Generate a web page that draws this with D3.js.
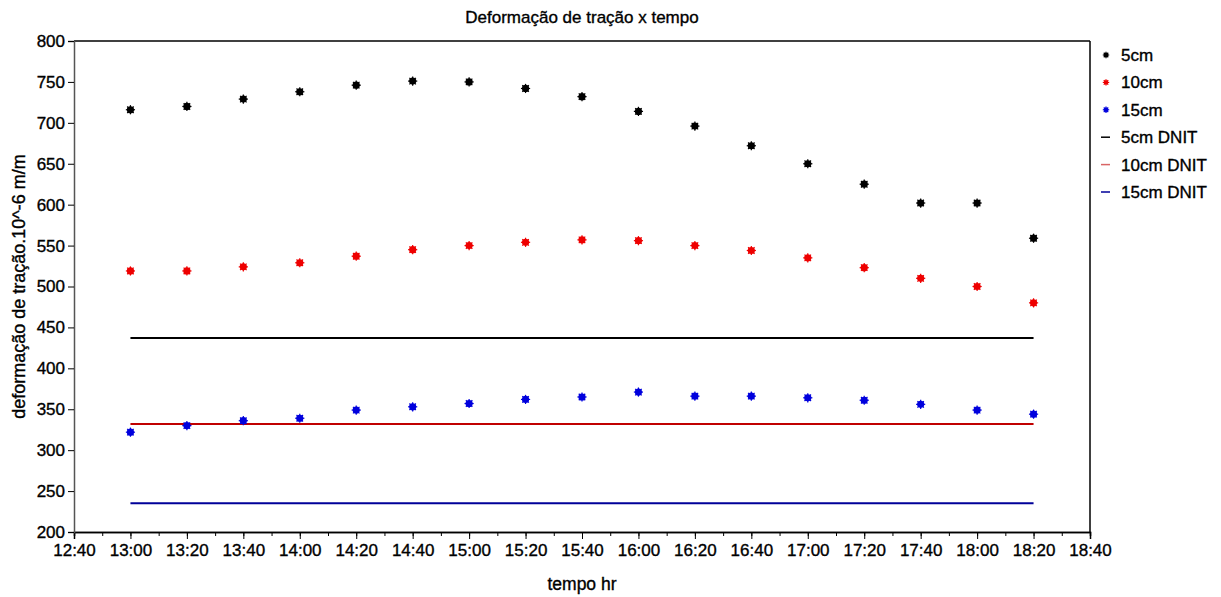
<!DOCTYPE html>
<html><head><meta charset="utf-8">
<script src="https://cdn.jsdelivr.net/npm/d3@7"></script>
<style>
body{margin:0;background:#fff;}
text{font-family:"Liberation Sans",Arial,sans-serif;fill:#000;stroke:#000;stroke-width:0.35px;}
</style></head><body>
<svg id="c" width="1221" height="597"></svg>
<script>
const times = ["13:00","13:20","13:40","14:00","14:20","14:40","15:00","15:20","15:40","16:00","16:20","16:40","17:00","17:20","17:40","18:00","18:20"];
const s5 = [716,720,729,738,746,751,750,742,732,714,696,672,650,625,602,602,559];
const s10 = [519,519,524,529,537,545,550,554,557,556,550,544,535,523,510,500,480];
const s15 = [322,330,336,339,349,353,357,362,365,371,366,366,364,361,356,349,344];
const dnit5 = 437, dnit10 = 332, dnit15 = 235;
const yTicks = [200,250,300,350,400,450,500,550,600,650,700,750,800];
const xTickLabels = ["12:40","13:00","13:20","13:40","14:00","14:20","14:40","15:00","15:20","15:40","16:00","16:20","16:40","17:00","17:20","17:40","18:00","18:20","18:40"];
const legendNames = ["5cm","10cm","15cm","5cm DNIT","10cm DNIT","15cm DNIT"];
const colors = ["#000000","#ee0000","#0000dd"];
const lineColors = ["#000000","#c00000","#000099"];

const toMin = s => { const [h,m] = s.split(":").map(Number); return h*60+m; };
const fmt = m => Math.floor(m/60) + ":" + String(m%60).padStart(2,"0");

const svg = d3.select("#c");
const L = 74, R = 1090, T = 41, B = 532;
const x = d3.scaleLinear().domain([toMin("12:40"), toMin("18:40")]).range([L, R]);
const y = d3.scaleLinear().domain([200, 800]).range([B, T]);

svg.append("line").attr("x1",L).attr("x2",R).attr("y1",T).attr("y2",T).attr("stroke","#000").attr("stroke-width",1.5);
svg.append("line").attr("x1",R).attr("x2",R).attr("y1",T).attr("y2",B).attr("stroke","#000").attr("stroke-width",1.5);

const xMajor = xTickLabels.map(toMin);
const xMinor = d3.range(toMin("12:40"), toMin("18:40")+1, 10);
const gx = svg.append("g").attr("transform",`translate(0,${B})`);
gx.call(d3.axisBottom(x).tickValues(xMinor).tickSize(4).tickFormat(""));
gx.append("g").call(d3.axisBottom(x).tickValues(xMajor).tickSize(7).tickPadding(5).tickFormat(fmt));
gx.selectAll("path.domain").attr("stroke","#000").attr("stroke-width",1.5);
gx.selectAll("line").attr("stroke","#000");
gx.selectAll("text").attr("font-size",17).attr("fill","#000").style("font-family","Liberation Sans, Arial, sans-serif");

const gy = svg.append("g").attr("transform",`translate(${L},0)`);
gy.call(d3.axisLeft(y).tickValues(yTicks).tickSize(6).tickPadding(3));
gy.selectAll("path.domain").attr("stroke","#555").attr("stroke-width",1.5);
gy.selectAll("line").attr("stroke","#000");
gy.selectAll("text").attr("font-size",17).attr("fill","#000").style("font-family","Liberation Sans, Arial, sans-serif");

const x0 = x(toMin(times[0])), x1 = x(toMin(times[times.length-1]));
[dnit5,dnit10,dnit15].forEach((v,i)=>{
  svg.append("line").attr("x1",x0).attr("x2",x1).attr("y1",y(v)).attr("y2",y(v))
    .attr("stroke",lineColors[i]).attr("stroke-width",2);
});

function star(g, cx, cy, col, r){
  g.append("circle").attr("cx",cx).attr("cy",cy).attr("r",r).attr("fill",col);
  for(let k=0;k<4;k++){
    const a = k*Math.PI/4;
    g.append("line").attr("x1",cx-Math.cos(a)*(r+1)).attr("x2",cx+Math.cos(a)*(r+1))
      .attr("y1",cy-Math.sin(a)*(r+1)).attr("y2",cy+Math.sin(a)*(r+1))
      .attr("stroke",col).attr("stroke-width",1.2);
  }
}
[s5,s10,s15].forEach((arr,i)=>{
  const g = svg.append("g");
  arr.forEach((v,j)=> star(g, x(toMin(times[j])), y(v), colors[i], 3.6));
});

const lg = svg.append("g");
legendNames.forEach((n,i)=>{
  const ly = 55 + i*27.4;
  if(i<3) star(lg, 1106, ly, colors[i], 2.2);
  else lg.append("line").attr("x1",1101).attr("x2",1110).attr("y1",ly).attr("y2",ly).attr("stroke",lineColors[i-3]).attr("stroke-width",1.5).attr("opacity",i===4?0.6:1);
  lg.append("text").attr("x",1121).attr("y",ly+6).attr("font-size",17).text(n);
});

svg.append("text").attr("x",582).attr("y",23).attr("text-anchor","middle").attr("font-size",17).text("Deformação de tração x tempo");
svg.append("text").attr("x",582).attr("y",590).attr("text-anchor","middle").attr("font-size",17.5).text("tempo hr");
svg.append("text").attr("transform",`translate(25,${(T+B)/2}) rotate(-90)`).attr("text-anchor","middle").attr("font-size",18).text("deformação de tração.10^-6 m/m");
</script></body></html>
